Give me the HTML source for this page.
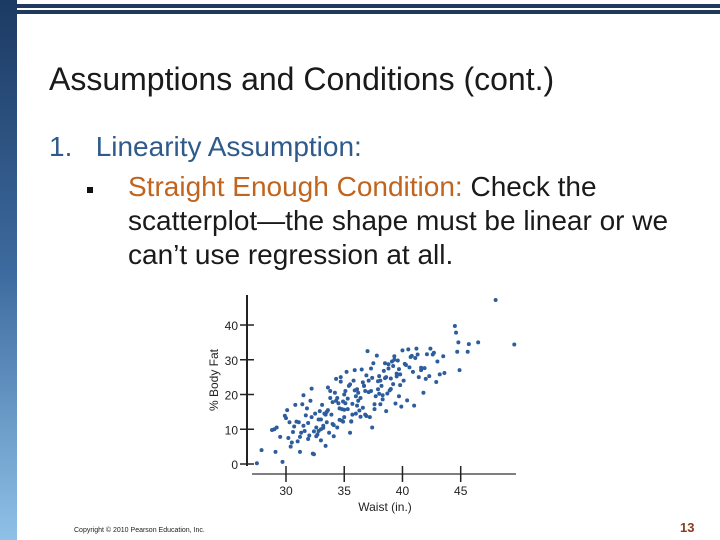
<!DOCTYPE html>
<html><head><meta charset="utf-8">
<style>
body{margin:0;width:720px;height:540px;position:relative;background:#fff;font-family:"Liberation Sans",sans-serif;overflow:hidden}
.abs{position:absolute}
</style></head><body>
<div class="abs" style="left:0;top:0;width:17px;height:540px;background:linear-gradient(#1c3a63,#3d6a9e 50%,#8fc1e8)"></div>
<div class="abs" style="left:17px;top:4px;width:703px;height:4px;background:#1e3a5f"></div>
<div class="abs" style="left:17px;top:10px;width:703px;height:4px;background:#1e3a5f"></div>
<div class="abs" style="left:49px;top:61px;font-size:32px;color:#1a1a1a;white-space:nowrap">Assumptions and Conditions (cont.)</div>
<div class="abs" style="left:49px;top:131px;font-size:28px;color:#2e5a8c;white-space:nowrap">1.&nbsp;&nbsp; Linearity Assumption:</div>
<div class="abs" style="left:87px;top:187px;width:6px;height:6px;background:#111"></div>
<div class="abs" style="left:128px;top:170px;font-size:28px;line-height:34px;color:#1a1a1a;width:560px"><span style="color:#c0641e">Straight Enough Condition:</span> Check the<br>scatterplot—the shape must be linear or we<br>can’t use regression at all.</div>
<svg class="abs" style="left:0;top:0" width="720" height="540">
<g id="g"></g>
<text x="218" y="380" transform="rotate(-90 218 380)" text-anchor="middle" font-size="12" fill="#222">% Body Fat</text>
<text x="385" y="511" text-anchor="middle" font-size="12" fill="#222">Waist (in.)</text>
</svg>
<div class="abs" style="left:74px;top:527px;font-size:7px;color:#222">Copyright © 2010 Pearson Education, Inc.</div>
<div class="abs" style="left:680px;top:520px;font-size:13px;font-weight:bold;color:#8b3a1a">13</div>
<script>
const xTicks=[30,35,40,45];
const yTicks=[0,10,20,30,40];
const waist=[27.5,27.9,29.1,29.0,28.8,29.5,29.2,29.7,30.2,30.0,30.4,30.1,30.3,30.6,30.8,30.5,31.1,31.0,31.3,31.2,31.4,31.5,31.7,31.8,31.9,32.0,32.2,32.3,32.1,32.4,32.6,32.5,32.8,32.9,32.7,33.0,33.1,33.2,33.3,33.0,33.4,33.5,33.6,33.7,33.8,33.9,34.0,34.1,34.2,34.3,34.4,34.1,34.5,34.6,34.7,34.8,34.9,35.0,35.1,35.2,35.3,35.0,35.4,35.5,35.6,35.7,35.8,35.9,36.0,36.1,36.2,36.3,36.4,36.5,36.6,36.7,36.8,36.9,37.0,37.1,37.2,37.3,37.4,37.5,37.6,37.7,37.8,37.9,38.0,38.1,38.2,38.3,38.4,38.5,38.6,38.7,38.8,38.9,39.0,39.1,39.2,39.3,39.4,39.5,39.6,39.7,39.8,39.9,40.0,40.2,40.4,40.6,40.8,41.0,41.2,41.4,41.6,41.8,42.0,42.3,42.6,42.9,43.2,43.5,44.5,44.7,44.8,44.9,45.7,45.6,46.5,48.0,49.6,
31.5,32.2,33.6,34.4,35.1,35.5,36.0,36.6,37.3,38.1,38.8,39.3,40.3,41.1,33.0,34.8,36.2,37.6,35.7,34.0,32.8,31.9,30.9,38.5,39.8,36.9,35.3,33.8,37.9,41.3,42.7,40.9,39.0,34.6,36.4,33.4,32.4,31.2,35.9,37.1,38.3,39.5,40.5,41.6,43.0,44.6,34.9,36.7,35.0,33.5,38.6,40.1,41.9,42.4,43.6,37.4,39.7,36.1,34.3,35.6,32.6,30.7,29.9,31.6,33.2,34.7,36.8,38.0,39.2,40.7,42.1];
const bodyFat=[0.2,4,3.5,10,9.8,7.8,10.5,0.6,7.5,13.2,5,15.5,12,9.2,17,6.2,12,6.5,9,3.5,17.2,11,14,16,7.2,8.2,13.5,3,18.2,2.8,10.5,14.5,12.8,15.2,8.5,10,17,11,14.5,6.8,5.2,15,22,9,21,14.2,17.8,8,20.5,24.5,10.5,11.2,17.5,16,25,12.5,18,13.5,21,26.5,15.8,20,22.5,9,12.2,17.3,24,27,14.5,21.5,18.2,15.4,19,27.2,16.2,22.5,21,25.5,32.5,20.7,13.5,27.5,10.5,29,15.8,19.5,31.2,21.5,25.3,17.2,22.5,19.8,26.8,24.7,15.2,20.3,28.7,21.2,24.6,29.5,23,31,17.4,26,29.8,27.3,25.8,16.5,32.7,28.8,18.3,27.8,31.1,16.8,33.2,25,27.7,20.5,24.5,25.3,31.5,23.6,25.8,31,39.7,32.3,35,27,34.5,32.3,35,47.2,34.4,
19.8,21.7,15.5,19,17.5,22.9,19.5,23.5,21,24,27.5,30,28.5,30.5,12.8,15.8,20.5,17.2,14.2,11.5,9.5,11.8,12.2,29,22.7,13.8,18.8,19,23.8,31.5,32,26.5,21.6,12.7,13.6,14.2,9.4,7.8,21.2,24,18.6,25.2,33,27,29.5,37.8,12.2,22.5,15.6,12,25,24,27.6,33.2,26.2,24.8,19.5,16.8,18.2,12.3,8,10.8,13.9,9.5,10.4,23.7,14.2,20.2,28.2,30.8,31.6];
const X=v=>286+(v-30)*(460.7-286)/15, Y=v=>464-v*(464-325)/40;
const g=document.getElementById('g'),NS='http://www.w3.org/2000/svg';
function mk(t,a){const e=document.createElementNS(NS,t);for(const k in a)e.setAttribute(k,a[k]);g.appendChild(e);return e;}
let e=mk('line',{x1:247,y1:295,x2:247,y2:466,stroke:'#222','stroke-width':2});


e=mk('line',{x1:252,y1:474,x2:516,y2:474,stroke:'#555','stroke-width':1.5});


yTicks.forEach(t=>{
 e=mk('line',{x1:240,y1:Y(t),x2:254,y2:Y(t),stroke:'#222','stroke-width':1.5});
 
 
 e=mk('text',{x:238,y:Y(t)+5,'text-anchor':'end','font-size':12,fill:'#222'});e.textContent=t;
 
 
});
xTicks.forEach(t=>{
 e=mk('line',{x1:X(t),y1:466,x2:X(t),y2:482,stroke:'#222','stroke-width':1.5});
 
 
 e=mk('text',{x:X(t),y:495,'text-anchor':'middle','font-size':12,fill:'#222'});e.textContent=t;
 
 
});
waist.forEach((w,i)=>{
 e=mk('circle',{cx:X(w),cy:Y(bodyFat[i]),r:2,fill:'#2d5d9c'});
 
 
});
</script>
</body></html>
